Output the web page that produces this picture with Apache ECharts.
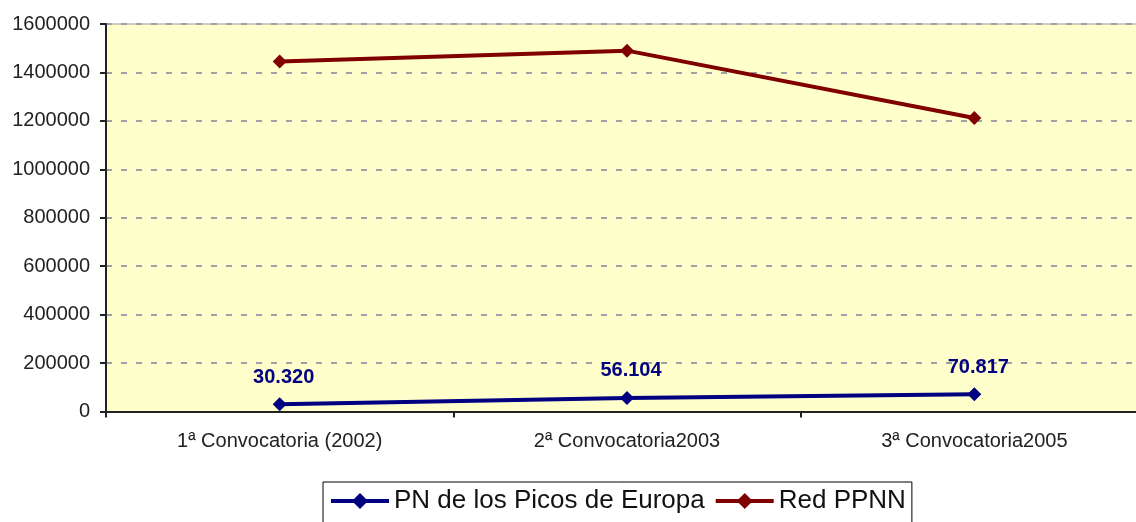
<!DOCTYPE html>
<html>
<head>
<meta charset="utf-8">
<style>
  html, body { margin: 0; padding: 0; background: #fff; }
  #chart { width: 1136px; height: 522px; }
</style>
<script src="https://cdn.jsdelivr.net/npm/echarts@6/dist/echarts.min.js"></script>
</head>
<body>
<div id="chart"></div>
<script>
// categories on the x axis
const categories = ['1ª Convocatoria (2002)', '2ª Convocatoria2003', '3ª Convocatoria2005']
// series values
const picosEuropa = [30320, 56104, 70817]
const redPPNN = [1445000, 1490000, 1212000]
const seriesNames = ['PN de los Picos de Europa', 'Red PPNN']

const font = 'Arial, "Liberation Sans", sans-serif'

// 30320 -> "30.320"
function fmtEs(v) {
  return String(v).replace(/\B(?=(\d{3})+(?!\d))/g, '.')
}

const chart = echarts.init(document.getElementById('chart'))
chart.setOption({
  animation: false,
  textStyle: { fontFamily: font },
  grid: {
    left: 106,
    top: 24,
    width: 1042,
    bottom: 110.5,
    outerBoundsMode: 'none',
    show: true,
    backgroundColor: '#FFFFCC',
    borderColor: '#999999',
    borderWidth: 1,
  },
  legend: {
    left: 323,
    top: 482,
    padding: [6, 6, 20, 6],
    borderColor: '#000',
    borderWidth: 1,
    itemWidth: 58,
    itemHeight: 20,
    itemGap: 9,
    lineStyle: { width: 4 },
    textStyle: { fontFamily: font, fontSize: 26, color: '#111' },
    data: seriesNames,
  },
  xAxis: {
    type: 'category',
    data: categories,
    boundaryGap: true,
    axisLine: { lineStyle: { color: '#222', width: 2 } },
    axisTick: { show: true, inside: false, length: 6, lineStyle: { color: '#222', width: 2 } },
    axisLabel: { fontFamily: font, fontSize: 20, color: '#222', margin: 20 },
  },
  yAxis: {
    type: 'value',
    min: 0,
    max: 1600000,
    interval: 200000,
    axisLine: { show: true, lineStyle: { color: '#222', width: 2 } },
    axisTick: { show: true, length: 6, lineStyle: { color: '#222', width: 2 } },
    axisLabel: {
      fontFamily: font,
      fontSize: 20,
      color: '#222',
      margin: 16,
      formatter: (v) => String(v),
    },
    splitLine: {
      show: true,
      lineStyle: { color: '#A0A0A8', width: 2, type: [6, 9] },
    },
  },
  series: [
    {
      name: seriesNames[0],
      type: 'line',
      data: picosEuropa,
      color: '#000080',
      symbol: 'diamond',
      symbolSize: 14,
      lineStyle: { width: 4, color: '#000080' },
      itemStyle: { color: '#000080' },
      label: {
        show: true,
        position: 'top',
        distance: 10,
        offset: [4, 0],
        fontFamily: font,
        fontSize: 20,
        fontWeight: 'bold',
        color: '#000080',
        formatter: (p) => fmtEs(p.value),
      },
      z: 3,
    },
    {
      name: seriesNames[1],
      type: 'line',
      data: redPPNN,
      color: '#800000',
      symbol: 'diamond',
      symbolSize: 14,
      lineStyle: { width: 4, color: '#800000' },
      itemStyle: { color: '#800000' },
      z: 2,
    },
  ],
})
</script>
</body>
</html>
